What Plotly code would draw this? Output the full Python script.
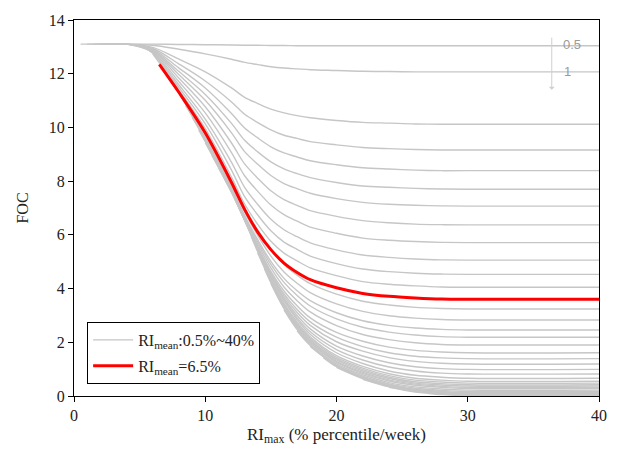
import plotly.graph_objects as go

# ---------------- data ----------------
# common RI_max grid (x) on which each FOC curve is read; each curve starts at x = RI_mean
RI_GRID = [4, 6, 8, 10, 12, 13, 14, 15, 16, 17, 18, 20, 22, 24, 26, 28, 30, 40]
X_TICKS = [0, 10, 20, 30, 40]
Y_TICKS = [0, 2, 4, 6, 8, 10, 12, 14]

# first value = FOC at x = RI_mean, then FOC at every RI_GRID point greater than RI_mean
foc_0_5 = [13.1, 13.1, 13.1, 13.09, 13.08, 13.07, 13.06, 13.06, 13.05, 13.05, 13.04, 13.04, 13.04, 13.04, 13.04, 13.04, 13.04, 13.04, 13.04]
foc_1_0 = [13.1, 13.1, 13.06, 12.91, 12.74, 12.54, 12.42, 12.34, 12.26, 12.21, 12.18, 12.15, 12.12, 12.09, 12.08, 12.07, 12.07, 12.07, 12.07]
foc_1_5 = [13.1, 13.1, 12.98, 12.54, 12.07, 11.47, 11.12, 10.89, 10.68, 10.54, 10.44, 10.36, 10.26, 10.19, 10.16, 10.13, 10.12, 10.12, 10.12]
foc_2_0 = [13.1, 13.1, 12.94, 12.36, 11.73, 10.95, 10.49, 10.18, 9.91, 9.71, 9.59, 9.47, 9.35, 9.25, 9.21, 9.18, 9.16, 9.16, 9.16]
foc_2_5 = [13.1, 13.1, 12.91, 12.21, 11.47, 10.52, 9.98, 9.61, 9.28, 9.05, 8.90, 8.76, 8.61, 8.50, 8.45, 8.41, 8.39, 8.39, 8.39]
foc_3_0 = [13.1, 13.1, 12.88, 12.08, 11.23, 10.15, 9.52, 9.09, 8.72, 8.46, 8.28, 8.13, 7.95, 7.82, 7.77, 7.73, 7.71, 7.70, 7.70]
foc_3_5 = [13.1, 13.1, 12.86, 11.96, 11.01, 9.80, 9.10, 8.63, 8.21, 7.91, 7.72, 7.55, 7.35, 7.21, 7.14, 7.10, 7.08, 7.07, 7.07]
foc_4_0 = [13.1, 12.83, 11.83, 10.77, 9.42, 8.64, 8.11, 7.64, 7.31, 7.10, 6.90, 6.69, 6.53, 6.45, 6.40, 6.38, 6.37, 6.37]
foc_4_5 = [13.06, 12.80, 11.70, 10.54, 9.06, 8.20, 7.62, 7.11, 6.75, 6.51, 6.29, 6.06, 5.88, 5.80, 5.75, 5.72, 5.71, 5.71]
foc_5_0 = [13.02, 12.78, 11.58, 10.31, 8.70, 7.77, 7.13, 6.58, 6.19, 5.93, 5.70, 5.44, 5.25, 5.16, 5.10, 5.07, 5.06, 5.06]
foc_5_5 = [12.93, 12.76, 11.48, 10.13, 8.41, 7.42, 6.74, 6.15, 5.73, 5.46, 5.21, 4.93, 4.73, 4.63, 4.57, 4.54, 4.53, 4.53]
foc_6_0 = [12.74, 11.39, 9.96, 8.15, 7.15, 6.39, 5.76, 5.32, 5.03, 4.77, 4.48, 4.26, 4.16, 4.10, 4.06, 4.05, 4.05]
foc_6_5 = [12.35, 11.30, 9.80, 7.95, 6.95, 6.10, 5.45, 4.95, 4.60, 4.33, 4.03, 3.82, 3.71, 3.65, 3.61, 3.60, 3.60]
foc_7_0 = [12.03, 11.35, 9.82, 8.02, 6.99, 6.18, 5.45, 4.90, 4.50, 4.18, 3.79, 3.53, 3.39, 3.30, 3.26, 3.24, 3.24]
foc_7_5 = [11.65, 11.30, 9.71, 7.89, 6.84, 5.98, 5.21, 4.62, 4.20, 3.85, 3.43, 3.15, 2.99, 2.90, 2.85, 2.83, 2.83]
foc_8_0 = [11.27, 9.63, 7.78, 6.72, 5.82, 5.01, 4.38, 3.92, 3.55, 3.10, 2.80, 2.63, 2.53, 2.48, 2.46, 2.46]
foc_8_5 = [10.82, 9.58, 7.73, 6.66, 5.74, 4.90, 4.23, 3.74, 3.35, 2.87, 2.56, 2.38, 2.27, 2.21, 2.19, 2.19]
foc_9_0 = [10.38, 9.52, 7.67, 6.60, 5.65, 4.77, 4.06, 3.55, 3.13, 2.62, 2.29, 2.10, 1.98, 1.92, 1.90, 1.90]
foc_9_5 = [9.91, 9.47, 7.62, 6.55, 5.56, 4.64, 3.91, 3.36, 2.91, 2.37, 2.04, 1.82, 1.70, 1.64, 1.61, 1.61]
foc_10_0 = [9.43, 7.60, 6.54, 5.52, 4.59, 3.80, 3.22, 2.76, 2.19, 1.84, 1.61, 1.48, 1.42, 1.39, 1.39]
foc_10_5 = [8.97, 7.60, 6.55, 5.50, 4.54, 3.73, 3.11, 2.63, 2.02, 1.67, 1.43, 1.29, 1.22, 1.19, 1.19]
foc_11_0 = [8.51, 7.59, 6.56, 5.49, 4.49, 3.64, 3.00, 2.50, 1.86, 1.49, 1.24, 1.09, 1.02, 0.99, 0.99]
foc_11_5 = [8.05, 7.61, 6.59, 5.50, 4.47, 3.60, 2.91, 2.39, 1.73, 1.34, 1.08, 0.93, 0.85, 0.82, 0.82]
foc_12_0 = [7.63, 6.63, 5.51, 4.45, 3.55, 2.84, 2.30, 1.61, 1.21, 0.93, 0.77, 0.70, 0.66, 0.66]
foc_12_5 = [7.08, 6.57, 5.44, 4.38, 3.46, 2.75, 2.21, 1.50, 1.10, 0.83, 0.66, 0.59, 0.55, 0.55]
foc_13_0 = [6.54, 5.40, 4.33, 3.41, 2.69, 2.15, 1.44, 1.04, 0.76, 0.59, 0.52, 0.48, 0.48]
foc_13_5 = [5.94, 5.37, 4.29, 3.36, 2.64, 2.09, 1.38, 0.98, 0.70, 0.53, 0.46, 0.42, 0.42]
foc_14_0 = [5.33, 4.25, 3.32, 2.60, 2.05, 1.34, 0.93, 0.65, 0.48, 0.41, 0.37, 0.37]
foc_14_5 = [4.75, 4.22, 3.28, 2.56, 2.01, 1.29, 0.88, 0.60, 0.44, 0.36, 0.32, 0.32]
foc_15_0 = [4.19, 3.25, 2.52, 1.97, 1.25, 0.84, 0.56, 0.40, 0.32, 0.28, 0.28]
foc_16_0 = [3.21, 2.47, 1.92, 1.20, 0.79, 0.50, 0.34, 0.26, 0.22, 0.22]
foc_17_0 = [2.43, 1.88, 1.15, 0.74, 0.45, 0.29, 0.21, 0.17, 0.17]
foc_18_0 = [1.84, 1.12, 0.70, 0.42, 0.25, 0.17, 0.13, 0.13]
foc_19_0 = [1.43, 1.09, 0.67, 0.39, 0.22, 0.14, 0.10, 0.10]
foc_20_0 = [1.07, 0.65, 0.37, 0.20, 0.12, 0.08, 0.08]
foc_22_0 = [0.62, 0.34, 0.17, 0.09, 0.05, 0.05]
foc_24_0 = [0.32, 0.15, 0.07, 0.03, 0.03]
foc_27_0 = [0.09, 0.05, 0.01, 0.01]
foc_30_0 = [0.0, 0.0]

ri_mean_gray = [0.5, 1.0, 1.5, 2.0, 2.5, 3.0, 3.5, 4.0, 4.5, 5.0, 5.5, 6.0,
                7.0, 7.5, 8.0, 8.5, 9.0, 9.5, 10.0, 10.5, 11.0, 11.5, 12.0,
                12.5, 13.0, 13.5, 14.0, 14.5, 15.0, 16.0, 17.0, 18.0, 19.0,
                20.0, 22.0, 24.0, 27.0, 30.0]
foc_gray = [foc_0_5, foc_1_0, foc_1_5, foc_2_0, foc_2_5, foc_3_0, foc_3_5, foc_4_0,
            foc_4_5, foc_5_0, foc_5_5, foc_6_0,
            foc_7_0, foc_7_5, foc_8_0, foc_8_5, foc_9_0, foc_9_5, foc_10_0, foc_10_5,
            foc_11_0, foc_11_5, foc_12_0,
            foc_12_5, foc_13_0, foc_13_5, foc_14_0, foc_14_5, foc_15_0, foc_16_0,
            foc_17_0, foc_18_0, foc_19_0, foc_20_0, foc_22_0, foc_24_0, foc_27_0, foc_30_0]
ri_mean_red = 6.5
foc_red = foc_6_5

LEGEND_GRAY = "RI<sub>mean</sub>:0.5%~40%"
LEGEND_RED = "RI<sub>mean</sub>=6.5%"
X_TITLE = "RI<sub>max</sub> (% percentile/week)"
Y_TITLE = "FOC"


def x_for(m, ys):
    xs = [m] + [g for g in RI_GRID if g > m]
    if len(xs) != len(ys):
        raise ValueError(f"curve {m}: {len(xs)} x vs {len(ys)} y")
    return xs


GRAY = "#c6c6c6"
SERIF = "Liberation Serif, Times New Roman, serif"

fig = go.Figure()
for i, (m, ys) in enumerate(zip(ri_mean_gray, foc_gray)):
    fig.add_trace(go.Scatter(
        x=x_for(m, ys), y=ys, mode="lines",
        line=dict(color=GRAY, width=1.4, shape="spline", smoothing=0.9),
        name=LEGEND_GRAY, legendgroup="gray", showlegend=(i == 0),
        hoverinfo="skip"))

fig.add_trace(go.Scatter(
    x=x_for(ri_mean_red, foc_red), y=foc_red, mode="lines",
    line=dict(color="#ff0000", width=3, shape="spline", smoothing=0.9),
    name=LEGEND_RED, showlegend=True, hoverinfo="skip"))

# labels of the two top curves with a small downward arrow
fig.add_annotation(x=36.4, y=11.4, ax=36.4, ay=13.4, xref="x", yref="y", axref="x", ayref="y",
                   text="", showarrow=True, arrowhead=1, arrowsize=1, arrowwidth=1,
                   arrowcolor="#cfcfcf")
fig.add_annotation(x=37.1, y=13.07, text="0.5", showarrow=False, xanchor="left",
                   font=dict(family="Liberation Sans, Arial", size=13, color="#9a9a9a"))
fig.add_annotation(x=37.2, y=12.07, text="1", showarrow=False, xanchor="left",
                   font=dict(family="Liberation Sans, Arial", size=13, color="#9a9a9a"))

axis_common = dict(showgrid=False, zeroline=False, showline=True, linecolor="black",
                   linewidth=1.3, mirror=True, ticks="outside", ticklen=5, tickwidth=1.2,
                   tickcolor="black", tickfont=dict(family=SERIF, size=16, color="#222"))

fig.update_xaxes(range=[0, 40], tickvals=X_TICKS, title=dict(text=X_TITLE,
                 font=dict(family=SERIF, size=17, color="#222"), standoff=4), **axis_common)
fig.update_yaxes(range=[0, 14], tickvals=Y_TICKS, title=dict(text=Y_TITLE,
                 font=dict(family=SERIF, size=16, color="#222"), standoff=16), **axis_common)

fig.update_layout(
    width=619, height=452,
    margin=dict(l=74, r=18, t=20, b=56),
    paper_bgcolor="white", plot_bgcolor="white",
    legend=dict(x=0.025, y=0.197, xanchor="left", yanchor="top",
                bgcolor="white", bordercolor="black", borderwidth=1,
                font=dict(family=SERIF, size=16, color="#222"),
                itemwidth=40, tracegroupgap=2),
)

fig.write_html("out.html")
